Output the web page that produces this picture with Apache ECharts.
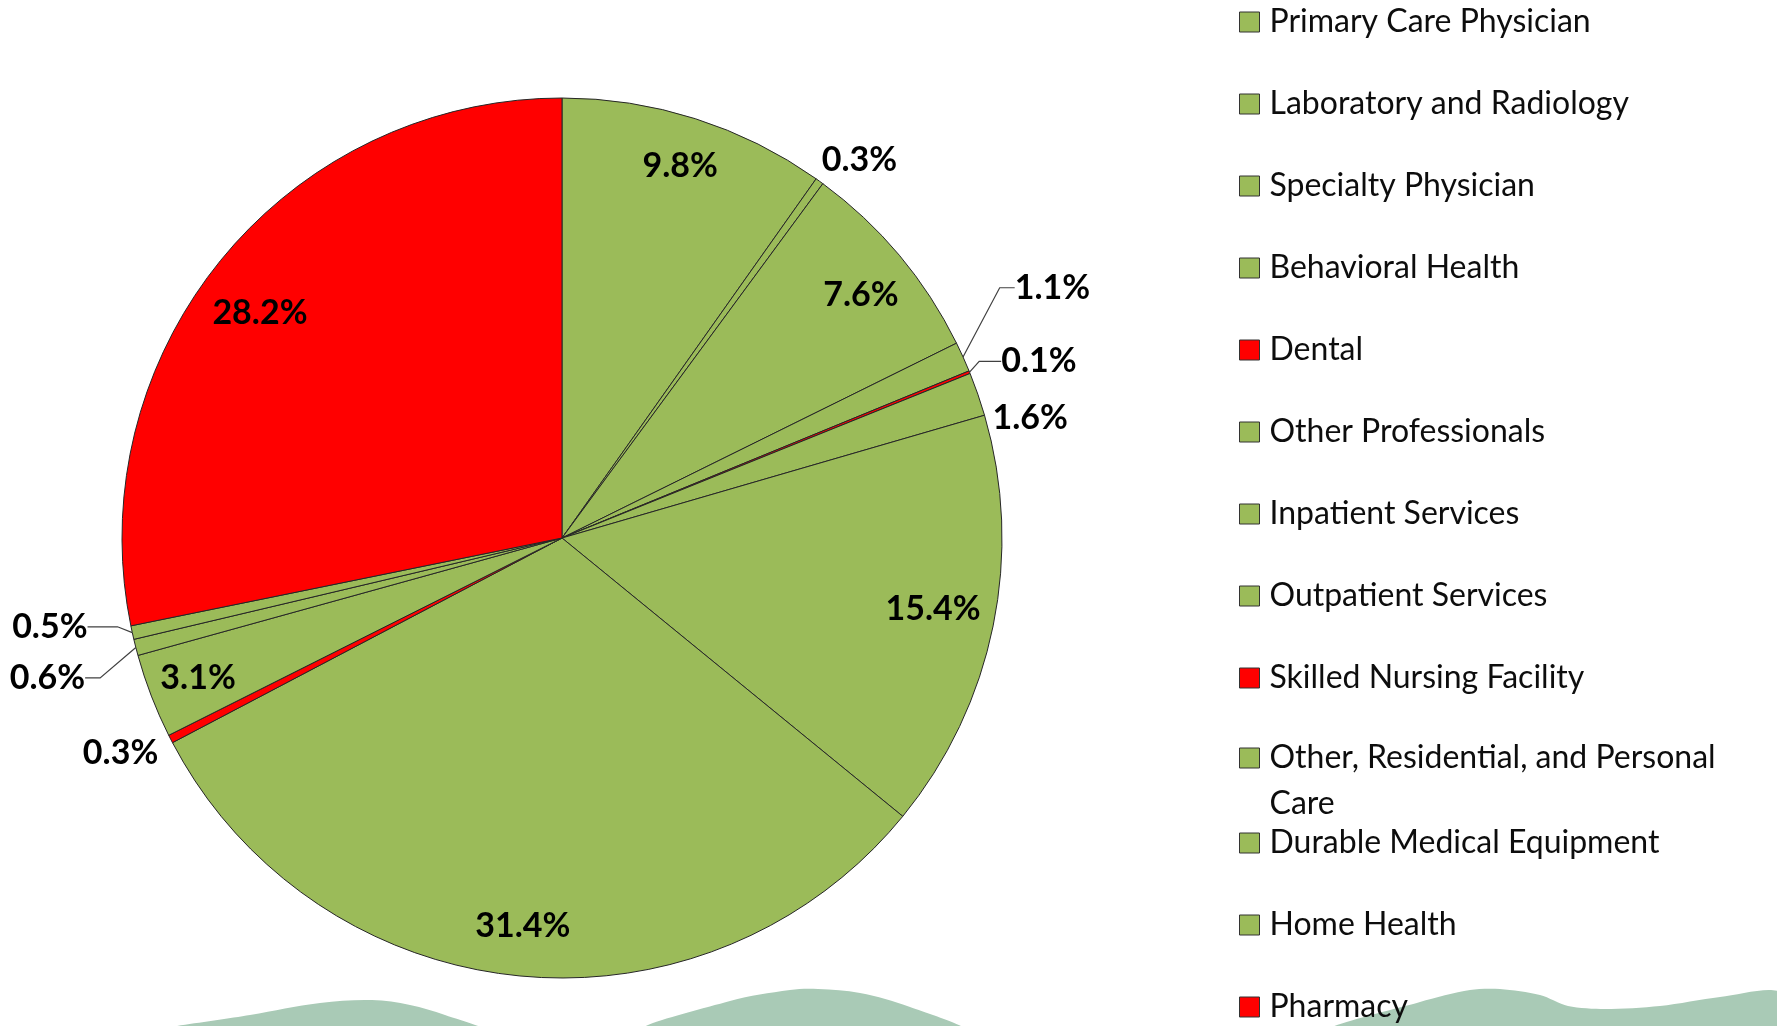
<!DOCTYPE html>
<html><head><meta charset="utf-8">
<script src="https://cdn.jsdelivr.net/npm/echarts@6/dist/echarts.min.js"></script>
<style>html,body{margin:0;padding:0;background:#fff}#chart{width:1777px;height:1026px}</style>
</head><body><div id="chart"></div>
<script>
const categories = ['Primary Care Physician','Laboratory and Radiology','Specialty Physician','Behavioral Health','Dental','Other Professionals','Inpatient Services','Outpatient Services','Skilled Nursing Facility','Other, Residential, and Personal Care','Durable Medical Equipment','Home Health','Pharmacy'];
const sharePct = [9.8, 0.3, 7.6, 1.1, 0.1, 1.6, 15.4, 31.4, 0.3, 3.1, 0.6, 0.5, 28.2];
const redCategories = ['Dental','Skilled Nursing Facility','Pharmacy'];
const insideLabelCategories = ['Primary Care Physician','Specialty Physician','Inpatient Services','Outpatient Services','Other, Residential, and Personal Care','Pharmacy'];

const GREEN = '#9BBB59', RED = '#FF0000';
const FONT = 'Lato, "Open Sans", sans-serif';

// leader-line settings for slices labelled outside the pie
const outsideLabelCfg = {
  'Laboratory and Radiology': {length: 26, length2: 0, line: false},
  'Behavioral Health': {length: 15, length2: 15, line: true},
  'Dental': {length: 5, length2: 22, line: true},
  'Other Professionals': {length: 5, length2: 0, line: false},
  'Skilled Nursing Facility': {length: 15, length2: 0, line: false},
  'Durable Medical Equipment': {length: 10, length2: 15, line: true},
  'Home Health': {length: 10, length2: 30, line: true}
};
// small label offsets (px) relative to the library's own label placement
const labelNudge = {
  'Laboratory and Radiology': [-18, 0],
  'Specialty Physician': [0, 8],
  'Behavioral Health': [18, -63],
  'Dental': [0, -9],
  'Other Professionals': [5, 25],
  'Inpatient Services': [-11, -7],
  'Skilled Nursing Facility': [6, 7],
  'Durable Medical Equipment': [-21, 28],
  'Home Health': [0, -8],
  'Pharmacy': [0, 22]
};

function nudgeLayout(params) {
  const n = labelNudge[categories[params.dataIndex]];
  if (!n) return {};
  const r = params.labelRect;
  const ax = params.align === 'right' ? r.x + r.width : (params.align === 'center' ? r.x + r.width / 2 : r.x);
  const ay = r.y + r.height / 2;
  return {x: ax + n[0], y: ay + n[1]};
}
const pctFormatter = p => Number(p.value).toFixed(1) + '%';

const mainData = categories.map((name, i) => {
  const cfg = outsideLabelCfg[name];
  const item = {name: name, value: sharePct[i], itemStyle: {color: redCategories.includes(name) ? RED : GREEN}};
  if (cfg) {
    item.label = {show: true};
    item.labelLine = {show: cfg.line, length: cfg.length, length2: cfg.length2};
  } else {
    item.label = {show: false};
    item.labelLine = {show: false};
  }
  return item;
});
const ringData = categories.map((name, i) => ({
  name: name, value: sharePct[i], label: {show: insideLabelCategories.includes(name)}
}));

const labelStyle = {fontFamily: FONT, fontWeight: 'bold', fontSize: 34, color: '#000', formatter: pctFormatter};

const legendBase = {
  orient: 'vertical', left: 1239, padding: 0, itemWidth: 20, itemHeight: 20, itemGap: 36,
  icon: 'rect', selectedMode: false, height: 400,
  itemStyle: {borderColor: '#333', borderWidth: 1},
  textStyle: {fontFamily: FONT, fontSize: 32, color: '#0d0d0d', lineHeight: 46, padding: [0, 0, 0, 5]}
};

const WAVE = '#A9CAB6';
const chart = echarts.init(document.getElementById('chart'), null, {renderer: 'canvas'});
chart.setOption({
  backgroundColor: '#fff',
  animation: false,
  legend: [
    Object.assign({}, legendBase, {top: -1, height: 900, data: categories.slice(0, 9)}),
    Object.assign({}, legendBase, {top: 689, data: [categories[9]],
      formatter: n => '\n' + n.replace(/ (\S+)$/, '\n$1')}),
    Object.assign({}, legendBase, {top: 820, data: categories.slice(10)})
  ],
  graphic: [
    {type: 'polygon', z: 0, silent: true, shape: {smooth: 0.35, points: [[165,1030],[250,1015],[320,1003],[372,1000],[410,1005],[445,1015],[482,1030]]}, style: {fill: WAVE}},
    {type: 'polygon', z: 0, silent: true, shape: {smooth: 0.35, points: [[645,1030],[730,1001],[790,990],[818,989],[860,993],[910,1007],[962,1030]]}, style: {fill: WAVE}},
    {type: 'polygon', z: 0, silent: true, shape: {smooth: 0.3, points: [[1332,1030],[1420,1002],[1470,990],[1500,989],[1540,995],[1568,1006],[1605,1009],[1660,1006],[1720,997],[1780,992],[1780,1030]]}, style: {fill: WAVE}}
  ],
  series: [
    {
      type: 'pie', center: [562, 538], radius: 440, startAngle: 90, clockwise: true,
      avoidLabelOverlap: false, emphasis: {disabled: true},
      itemStyle: {borderColor: '#262626', borderWidth: 1},
      label: Object.assign({position: 'outside', distanceToLabelLine: 5}, labelStyle),
      labelLine: {lineStyle: {color: '#404040', width: 1.2}},
      labelLayout: nudgeLayout,
      data: mainData
    },
    {
      type: 'pie', center: [562, 538], radius: [334, 440], startAngle: 90, clockwise: true,
      avoidLabelOverlap: false, silent: true, emphasis: {disabled: true},
      itemStyle: {color: 'rgba(0,0,0,0)', borderWidth: 0},
      label: Object.assign({position: 'inside'}, labelStyle),
      labelLine: {show: false},
      labelLayout: nudgeLayout,
      data: ringData
    }
  ]
});
</script></body></html>
